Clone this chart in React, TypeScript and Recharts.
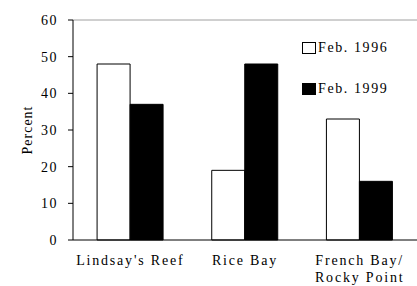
import React from 'react';
import { BarChart, Bar, XAxis, YAxis, ReferenceLine, Label } from 'recharts';

const sites = ["Lindsay's Reef", 'Rice Bay', 'French Bay/\nRocky Point'];
const feb1996 = [48, 19, 33];
const feb1999 = [37, 48, 16];
const yTicks = [0, 10, 20, 30, 40, 50, 60];
const boundaryTicks = [0, 1, 2, 3];
const seriesNames = ['Feb. 1996', 'Feb. 1999'];
const seriesFills = ['#fff', '#000'];

const data = sites.map((site, i) => ({ site, feb1996: feb1996[i], feb1999: feb1999[i] }));

const FONT = '"Liberation Serif", "Times New Roman", serif';

const SiteTick = (props: any) => {
  const { x, y, payload } = props;
  const lines = String(payload.value).split('\n');
  return (
    <text x={x} y={y} textAnchor="middle" fontFamily={FONT} fontSize={14} letterSpacing={1.8} fill="#000">
      {lines.map((ln, i) => (
        <tspan key={i} x={x} dy={17}>{ln}</tspan>
      ))}
    </text>
  );
};

export default function App() {
  return (
    <div style={{ position: 'absolute', left: 0, top: 0, width: 417, height: 286, background: '#fff' }}>
      <BarChart
        width={417}
        height={286}
        data={data}
        margin={{ top: 20, right: 0, bottom: 0, left: 0 }}
        barCategoryGap="21%"
        barGap={0}
      >
        <XAxis
          xAxisId="b"
          type="number"
          domain={[0, 3]}
          ticks={boundaryTicks}
          height={0}
          tick={false}
          tickLine={{ stroke: '#000' }}
          tickSize={4}
          axisLine={false}
        />
        <XAxis
          dataKey="site"
          height={46}
          interval={0}
          tick={<SiteTick />}
          tickLine={false}
          axisLine={{ stroke: '#000' }}
        />
        <YAxis
          domain={[0, 60]}
          ticks={yTicks}
          width={73}
          tickSize={5}
          tickMargin={10}
          tick={{ fontFamily: FONT, fontSize: 14, letterSpacing: 1.5, fill: '#000' }}
          tickLine={{ stroke: '#000' }}
          axisLine={{ stroke: '#000' }}
        >
          <Label
            value="Percent"
            angle={-90}
            position="insideLeft"
            offset={27}
            style={{ fontFamily: FONT, fontSize: 14, letterSpacing: 1, fill: '#000', textAnchor: 'middle' }}
          />
        </YAxis>
        <ReferenceLine y={60} stroke="#a0a0a0" />
        <Bar dataKey="feb1996" name={seriesNames[0]} fill={seriesFills[0]} stroke="#000" strokeWidth={1} isAnimationActive={false} />
        <Bar dataKey="feb1999" name={seriesNames[1]} fill={seriesFills[1]} stroke="#000" strokeWidth={1} isAnimationActive={false} />
      </BarChart>
      <div style={{ position: 'absolute', left: 302, top: 38, fontFamily: FONT, fontSize: 14, letterSpacing: 1.6, color: '#000' }}>
        {seriesNames.map((name, i) => (
          <div key={name} style={{ display: 'flex', alignItems: 'center', height: 20, marginBottom: 21 }}>
            <span style={{ display: 'inline-block', width: 12, height: 10, border: '1px solid #000', background: seriesFills[i], marginRight: 2 }} />
            <span>{name}</span>
          </div>
        ))}
      </div>
    </div>
  );
}
